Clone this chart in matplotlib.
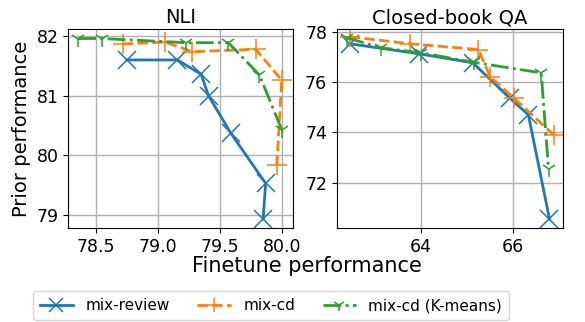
import matplotlib.pyplot as plt

# NLI: (finetune, prior) per setting
nli_review_x = [78.75, 79.16, 79.35, 79.41, 79.59, 79.87, 79.85]
nli_review_y = [81.60, 81.60, 81.36, 81.00, 80.37, 79.53, 78.93]
nli_cd_x = [78.72, 79.06, 79.28, 79.79, 80.00, 79.96]
nli_cd_y = [81.87, 81.90, 81.74, 81.78, 81.26, 79.83]
nli_km_x = [78.36, 78.55, 79.23, 79.57, 79.82, 80.00]
nli_km_y = [81.96, 81.96, 81.89, 81.89, 81.35, 80.43]

# Closed-book QA
qa_review_x = [62.45, 63.96, 65.13, 65.93, 66.34, 66.80]
qa_review_y = [77.54, 77.14, 76.78, 75.38, 74.71, 70.55]
qa_cd_x = [62.45, 63.76, 65.25, 65.51, 66.02, 66.89]
qa_cd_y = [77.82, 77.54, 77.31, 76.22, 75.38, 73.91]
qa_km_x = [62.38, 63.13, 64.00, 65.15, 66.62, 66.78]
qa_km_y = [77.78, 77.38, 77.18, 76.80, 76.38, 72.54]

labels = ["mix-review", "mix-cd", "mix-cd (K-means)"]
styles = [
    dict(color="#1f77b4", ls="-", marker="x", ms=13, lw=2, mew=1.1),
    dict(color="#ff7f0e", ls="--", marker="+", ms=14, lw=2, mew=1.1),
    dict(color="#2ca02c", ls="-.", marker="1", ms=11, lw=2, mew=1.1),
]

fig = plt.figure(figsize=(5.85, 3.22), dpi=100)
ax1 = fig.add_axes([0.1167, 0.292, 0.384, 0.618])
ax2 = fig.add_axes([0.576, 0.292, 0.386, 0.618])

for xs, ys, lab, st in zip([nli_review_x, nli_cd_x, nli_km_x],
                           [nli_review_y, nli_cd_y, nli_km_y], labels, styles):
    ax1.plot(xs, ys, label=lab, **st)
for xs, ys, st in zip([qa_review_x, qa_cd_x, qa_km_x],
                      [qa_review_y, qa_cd_y, qa_km_y], styles):
    ax2.plot(xs, ys, **st)

ax1.set_xlim(78.28, 80.09)
ax1.set_ylim(78.78, 82.12)
ax1.set_xticks([78.5, 79.0, 79.5, 80.0])
ax1.set_yticks([79, 80, 81, 82])
ax1.set_title("NLI", fontsize=14, pad=4)

ax2.set_xlim(62.17, 67.09)
ax2.set_ylim(70.19, 78.13)
ax2.set_xticks([64, 66])
ax2.set_yticks([72, 74, 76, 78])
ax2.set_title("Closed-book QA", fontsize=14, pad=4)

for ax in (ax1, ax2):
    ax.grid(True, color="#b0b0b0", lw=1)
    ax.tick_params(labelsize=12.5)

fig.text(0.524, 0.174, "Finetune performance", ha="center", va="center", fontsize=15)
fig.text(0.036, 0.6, "Prior performance", ha="center", va="center",
         rotation=90, fontsize=14)

fig.legend(loc="center", bbox_to_anchor=(0.463, 0.051), ncol=3, fontsize=11,
           handlelength=2.2, columnspacing=1.8, borderpad=0.45, markerscale=0.75)

fig.savefig("out.png", dpi=100)
